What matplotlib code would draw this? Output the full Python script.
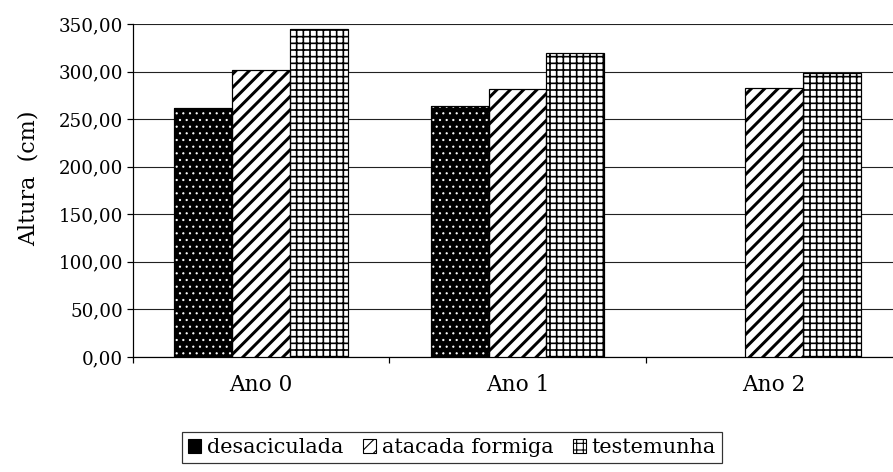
import matplotlib
matplotlib.use("Agg")
import matplotlib.pyplot as plt
import numpy as np
from matplotlib.patches import Patch

categories = ["Ano 0", "Ano 1", "Ano 2"]
series_names = ["desaciculada", "atacada formiga", "testemunha"]
desaciculada = [262.0, 264.0, 0.0]
atacada = [301.5, 281.5, 283.0]
testemunha = [344.5, 319.0, 299.0]
yticks = [0, 50, 100, 150, 200, 250, 300, 350]
ytick_labels = ["0,00", "50,00", "100,00", "150,00", "200,00", "250,00", "300,00", "350,00"]

plt.rcParams['font.family'] = ['DejaVu Serif']

DPI = 80
fig = plt.figure(figsize=(893 / DPI, 472 / DPI), dpi=DPI)
ax = fig.add_axes([133 / 893, 115 / 472, 769 / 893, 333 / 472])

x = np.arange(len(categories))
w = 0.226


def hatched_bar(xpos, vals, hatch, hlw, face, hcol):
    with plt.rc_context({'hatch.linewidth': hlw}):
        bars = ax.bar(xpos, vals, w, facecolor=face, edgecolor=hcol, hatch=hatch,
                      linewidth=0, zorder=3)
    for b in bars:
        if hasattr(b, 'set_hatch_linewidth'):
            b.set_hatch_linewidth(hlw)
    ax.bar(xpos, vals, w, facecolor='none', edgecolor='black', linewidth=1.1, zorder=4)
    return bars


mask = [v > 0 for v in desaciculada]
xd = [xi for xi, m in zip(x - w, mask) if m]
vd = [v for v, m in zip(desaciculada, mask) if m]
hatched_bar(xd, vd, '..', 0.8, 'black', 'white')
hatched_bar(x, atacada, '//', 2.7, 'white', 'black')
hatched_bar(x + w, testemunha, '++', 1.5, 'white', 'black')

ax.set_xlim(-0.5, 2.5)
ax.set_ylim(0, 350)
ax.set_yticks(yticks)
ax.set_yticklabels(ytick_labels, fontsize=16.5)
ax.set_xticks(x)
ax.set_xticklabels(categories, fontsize=19.5)
ax.set_xticks([-0.5, 0.5, 1.5, 2.5], minor=True)
ax.tick_params(axis='x', which='major', length=0, pad=15)
ax.tick_params(axis='x', which='minor', length=5, width=1.1, direction='out', color='black')
ax.tick_params(axis='y', length=5, width=1.1, direction='out', color='black', pad=4)
ax.yaxis.grid(True, color='#222222', linewidth=1.0, zorder=0)
ax.set_axisbelow(True)
for s in ['top', 'right']:
    ax.spines[s].set_visible(False)
ax.spines['left'].set_linewidth(1.1)
ax.spines['bottom'].set_linewidth(1.1)
ax.set_ylabel("Altura  (cm)", fontsize=20)
ax.yaxis.set_label_coords((40 - 133) / 769, (357 - 178) / 333)

handles = []
specs = [('black', 'white', '..', 0.8), ('white', 'black', '//', 2.0), ('white', 'black', '++', 1.0)]
for face, hcol, h, hlw in specs:
    with plt.rc_context({'hatch.linewidth': hlw}):
        p = Patch(facecolor=face, edgecolor='black', hatch=h)
    handles.append(p)

leg = fig.legend(handles, series_names, loc='upper left',
                 bbox_to_anchor=(182 / 893, (472 - 432) / 472),
                 ncol=3, fontsize=18.7, frameon=True, fancybox=False,
                 handlelength=0.6, handleheight=0.6, handletextpad=0.3,
                 columnspacing=0.95, borderpad=0.3, borderaxespad=0)
leg.get_frame().set_edgecolor('black')
leg.get_frame().set_linewidth(1.1)

fig.savefig("out.png", dpi=DPI)
